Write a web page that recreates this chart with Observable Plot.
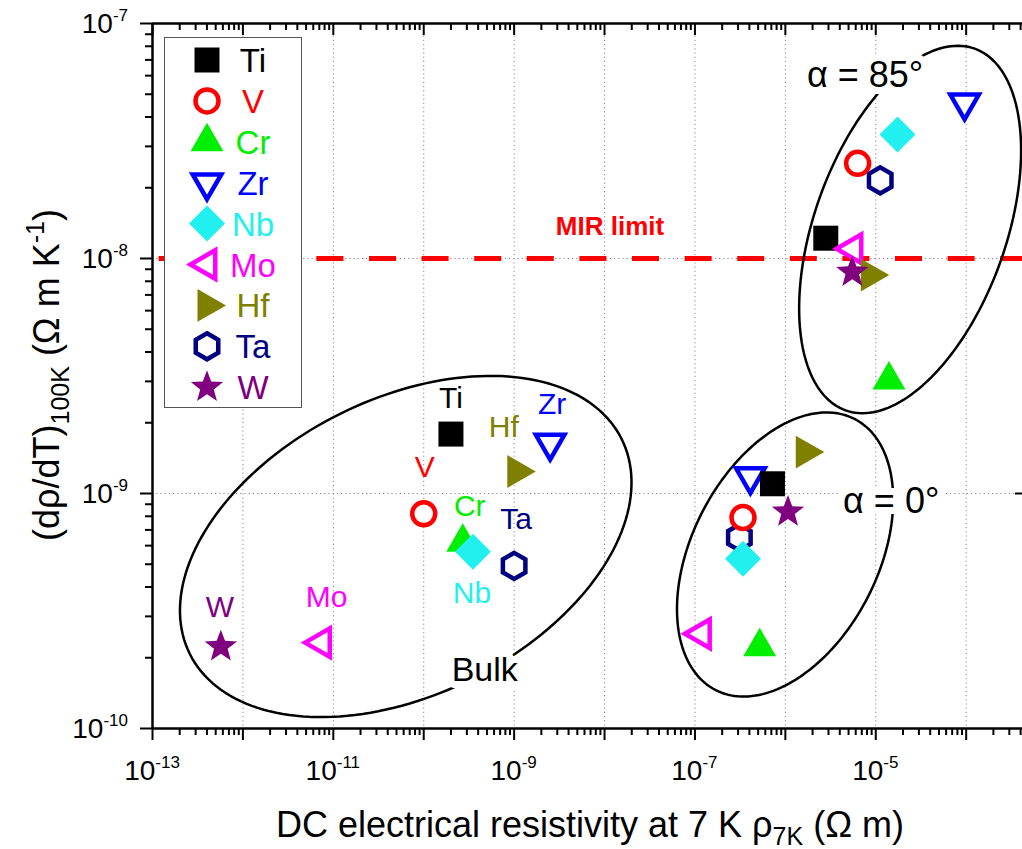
<!DOCTYPE html>
<html><head><meta charset="utf-8">
<script src="https://cdn.jsdelivr.net/npm/d3@7"></script>
<script src="https://cdn.jsdelivr.net/npm/@observablehq/plot@0.6"></script>
<style>html,body{margin:0;padding:0;background:#fff}</style>
</head><body><div id="chart"></div>
<script>
// ---------------- data ----------------
const elements = ["Ti", "V", "Cr", "Zr", "Nb", "Mo", "Hf", "Ta", "W"];
// bulk metals
const bulkRho   = [2.0e-10, 1.0e-10, 2.7e-10, 2.5e-9, 3.5e-10, 7.4e-12, 1.07e-9, 1.0e-9, 5.7e-13];
const bulkSlope = [1.79e-9, 8.2e-10, 6.2e-10, 1.64e-9, 5.65e-10, 2.32e-10, 1.24e-9, 4.92e-10, 2.23e-10];
// films deposited at alpha = 0°
const alpha0Rho   = [7.2e-7, 3.4e-7, 5.2e-7, 4.1e-7, 3.4e-7, 1.18e-7, 1.66e-6, 3.1e-7, 1.07e-6];
const alpha0Slope = [1.1e-9, 7.9e-10, 2.23e-10, 1.18e-9, 5.27e-10, 2.53e-10, 1.5e-9, 6.5e-10, 8.35e-10];
// films deposited at alpha = 85°
const alpha85Rho   = [2.8e-6, 6.3e-6, 1.4e-5, 9.6e-5, 1.74e-5, 5.6e-6, 8.7e-6, 1.12e-5, 5.5e-6];
const alpha85Slope = [1.22e-8, 2.54e-8, 3.04e-9, 4.6e-8, 3.37e-8, 1.1e-8, 8.5e-9, 2.15e-8, 8.75e-9];
const mirLimit = 1e-8;
// axis ticks (exponents of ten)
const xDecadeExps = [-13, -12, -11, -10, -9, -8, -7, -6, -5, -4];
const xLabelExps = [-13, -11, -9, -7, -5];
const yDecadeExps = [-10, -9, -8, -7];
const yLabelExps = [-10, -9, -8, -7];
// group annotations: centre and half-axes in decades (log10 space)
const groupEllipses = [
  {name: "Bulk",    cx: -10.199, cy: -9.2255, ax: 2.388,  ay: 0.4575, bx: -0.7308, by: 0.5637},
  {name: "alpha0",  cx: -6.003,  cy: -9.2596, ax: 0.768,  ay: 0.5769, bx: -0.9165, by: 0.1803},
  {name: "alpha85", cx: -4.620,  cy: -7.8766, ax: 0.7131, ay: 0.7697, bx: -0.9992, by: 0.1368}
];
const groupLabels = [
  {text: "Bulk",    x: 4.73e-10, y: 1.78e-10, size: 34},
  {text: "α = 0°",  x: 1.48e-5,  y: 9.24e-10, size: 36},
  {text: "α = 85°", x: 7.62e-6,  y: 6.01e-8,  size: 36}
];
const mirLabel = {text: "MIR limit", x: 1.15e-8, y: 1.37e-8};

// ---------------- symbols ----------------
const rad = s => Math.sqrt(s / Math.PI);
function poly(ctx, pts) { ctx.moveTo(pts[0][0], pts[0][1]); for (let i = 1; i < pts.length; i++) ctx.lineTo(pts[i][0], pts[i][1]); ctx.closePath(); }
const S = {
  square:   {draw(ctx, s) { const r = rad(s); ctx.rect(-r, -r, 2 * r, 2 * r); }},
  circle:   {draw(ctx, s) { const r = rad(s); ctx.moveTo(r, 0); ctx.arc(0, 0, r, 0, 2 * Math.PI); ctx.closePath(); }},
  triUp:    {draw(ctx, s) { const r = rad(s); poly(ctx, [[0, -r], [0.866 * r, r / 2], [-0.866 * r, r / 2]]); }},
  triDown:  {draw(ctx, s) { const r = rad(s); poly(ctx, [[0, r], [0.866 * r, -r / 2], [-0.866 * r, -r / 2]]); }},
  triLeft:  {draw(ctx, s) { const r = rad(s); poly(ctx, [[-r, 0], [r / 2, -0.866 * r], [r / 2, 0.866 * r]]); }},
  triRight: {draw(ctx, s) { const r = rad(s); poly(ctx, [[r, 0], [-r / 2, -0.866 * r], [-r / 2, 0.866 * r]]); }},
  diamond:  {draw(ctx, s) { const r = rad(s); poly(ctx, [[0, -r], [r, 0], [0, r], [-r, 0]]); }},
  hexagon:  {draw(ctx, s) { const r = rad(s); const p = []; for (let k = 0; k < 6; k++) { const a = -Math.PI / 2 + k * Math.PI / 3; p.push([r * Math.cos(a), r * Math.sin(a)]); } poly(ctx, p); }},
  star:     {draw(ctx, s) { const r = rad(s), ri = r * 0.42; const p = []; for (let k = 0; k < 10; k++) { const a = -Math.PI / 2 + k * Math.PI / 5; const rr = k % 2 ? ri : r; p.push([rr * Math.cos(a), rr * Math.sin(a)]); } poly(ctx, p); }}
};
const style = {
  Ti: {symbol: S.square,   r: 12.5, color: "#000000", open: false},
  V:  {symbol: S.circle,   r: 11.5, color: "#ff0000", open: true},
  Cr: {symbol: S.triUp,    r: 19,   color: "#00ee00", open: false},
  Zr: {symbol: S.triDown,  r: 16.5, color: "#0000ff", open: true},
  Nb: {symbol: S.diamond,  r: 18,   color: "#22f0f0", open: false},
  Mo: {symbol: S.triLeft,  r: 16.5, color: "#ff00ff", open: true},
  Hf: {symbol: S.triRight, r: 19,   color: "#808000", open: false},
  Ta: {symbol: S.hexagon,  r: 13,   color: "#000080", open: true},
  W:  {symbol: S.star,     r: 17,   color: "#800080", open: false}
};
const drawOrder = ["Zr", "Ti", "Ta", "V", "Cr", "Nb", "Mo", "Hf", "W"];
// label offsets (px) for the bulk element names
const bulkLabelOffset = {Ti: [0, -36], V: [1, -46], Cr: [7, -36], Zr: [2, -39], Nb: [-1, 42], Mo: [5, -45], Hf: [-13, -44], Ta: [2, -46], W: [-1, -39]};

// ---------------- table ----------------
const rows = [];
elements.forEach((el, i) => {
  rows.push({el, group: "Bulk", rho: bulkRho[i], slope: bulkSlope[i]});
  rows.push({el, group: "α = 0°", rho: alpha0Rho[i], slope: alpha0Slope[i]});
  rows.push({el, group: "α = 85°", rho: alpha85Rho[i], slope: alpha85Slope[i]});
});
const ellipsePts = [];
for (const e of groupEllipses) {
  for (let d = 0; d <= 360; d += 2) {
    const t = d * Math.PI / 180;
    ellipsePts.push({name: e.name,
      x: Math.pow(10, e.cx + e.ax * Math.cos(t) + e.bx * Math.sin(t)),
      y: Math.pow(10, e.cy + e.ay * Math.cos(t) + e.by * Math.sin(t))});
  }
}
const xMajor = xDecadeExps.map(e => Math.pow(10, e));
const xMinor = [];
xDecadeExps.forEach(e => { for (let m = 2; m <= 9; m++) { const v = m * Math.pow(10, e); if (v < 4.2e-4) xMinor.push(v); } });
const yMajor = yDecadeExps.map(e => Math.pow(10, e));
const yMinor = [];
yDecadeExps.slice(0, -1).forEach(e => { for (let m = 2; m <= 9; m++) yMinor.push(m * Math.pow(10, e)); });

const xMin = 1e-13, xMax = Math.pow(10, -3.377), yMin = 1e-10, yMax = 1e-7;
const FONT = "'Liberation Sans', Arial, Helvetica, sans-serif";

const marks = [
  Plot.gridX(xMajor.filter(v => v > xMin), {x: d => d, stroke: "#888", strokeOpacity: 1, strokeWidth: 1, strokeDasharray: "1.2,3"}),
  Plot.gridY(yMajor.filter(v => v > yMin && v < yMax), {y: d => d, stroke: "#888", strokeOpacity: 1, strokeWidth: 1, strokeDasharray: "1.2,3"}),
  // bottom / left ticks
  Plot.axisX(xMajor, {anchor: "bottom", tickSize: 12, strokeWidth: 2, tickFormat: () => "", label: null}),
  Plot.axisX(xMinor, {anchor: "bottom", tickSize: 7, strokeWidth: 2, tickFormat: () => "", label: null}),
  Plot.axisY(yMajor, {anchor: "left", tickSize: 12, strokeWidth: 2, tickFormat: () => "", label: null}),
  Plot.axisY(yMinor, {anchor: "left", tickSize: 7, strokeWidth: 2, tickFormat: () => "", label: null}),
  // top ticks (inward)
  Plot.ruleX(xMajor, {x: d => d, y1: yMax, y2: yMax, insetBottom: -12, stroke: "black", strokeWidth: 2}),
  Plot.ruleX(xMinor, {x: d => d, y1: yMax, y2: yMax, insetBottom: -7, stroke: "black", strokeWidth: 2}),
  // right-axis major ticks (axis itself lies just beyond the picture edge)
  Plot.ruleY(yMajor.filter(v => v > yMin && v < yMax), {y: d => d, x1: xMax, x2: xMax, insetLeft: -7, stroke: "black", strokeWidth: 2}),
  // frame lines
  Plot.ruleX([xMin], {stroke: "black", strokeWidth: 2.5}),
  Plot.ruleY([yMin, yMax], {stroke: "black", strokeWidth: 2.5}),
  // MIR limit
  Plot.ruleY([mirLimit], {stroke: "#ff0000", strokeWidth: 5, strokeDasharray: "27,25.6", strokeDashoffset: 46}),
  Plot.text([mirLabel], {x: "x", y: "y", text: "text", fill: "#ff0000", fontWeight: "bold", fontSize: 26, fontFamily: FONT}),
  // group ellipses
  Plot.line(ellipsePts, {x: "x", y: "y", z: "name", stroke: "black", strokeWidth: 2.5, curve: "linear"}),
  Plot.text(groupLabels, {x: "x", y: "y", text: "text", fontSize: d => d.size, fill: "black", stroke: "white", strokeWidth: 14, paintOrder: "stroke", fontFamily: FONT})
];
// points
for (const el of drawOrder) {
  const st = style[el];
  marks.push(Plot.dot(rows.filter(d => d.el === el), {
    x: "rho", y: "slope", symbol: st.symbol, r: st.r,
    fill: st.open ? "white" : st.color,
    stroke: st.open ? st.color : "none",
    strokeWidth: st.open ? 4.5 : 0
  }));
}
// bulk labels
for (const el of elements) {
  const [dx, dy] = bulkLabelOffset[el];
  marks.push(Plot.text(rows.filter(d => d.el === el && d.group === "Bulk"), {
    x: "rho", y: "slope", text: "el", dx, dy, fill: style[el].color, fontSize: 30, fontFamily: FONT
  }));
}

const svg = Plot.plot({
  width: 1022, height: 849,
  marginLeft: 152, marginRight: 0, marginTop: 23, marginBottom: 121,
  x: {type: "log", domain: [xMin, xMax]},
  y: {type: "log", domain: [yMin, yMax]},
  style: {fontFamily: FONT, background: "white", overflow: "visible"},
  marks
});
document.getElementById("chart").appendChild(svg);

// ---------------- tick labels, titles, legend ----------------
const xs = svg.scale("x"), ys = svg.scale("y");
const root = d3.select(svg);
const gx = root.append("g").attr("font-family", FONT).attr("fill", "black");
for (const e of xLabelExps) {
  const t = gx.append("text").attr("x", xs.apply(Math.pow(10, e))).attr("y", 780).attr("text-anchor", "middle").style("font-size", "28px");
  t.append("tspan").text("10");
  t.append("tspan").attr("dy", -12).style("font-size", "17px").text(String(e));
}
for (const e of yLabelExps) {
  const t = gx.append("text").attr("x", 128).attr("y", ys.apply(Math.pow(10, e)) + 10).attr("text-anchor", "end").style("font-size", "28px");
  t.append("tspan").text("10");
  t.append("tspan").attr("dy", -12).style("font-size", "17px").text(String(e));
}
// x title
{
  const t = gx.append("text").attr("x", 590).attr("y", 837).attr("text-anchor", "middle").style("font-size", "36px");
  t.append("tspan").text("DC electrical resistivity at 7 K ρ");
  t.append("tspan").attr("dy", 8).style("font-size", "25px").text("7K");
  t.append("tspan").attr("dy", -8).text(" (Ω m)");
}
// y title
{
  const t = gx.append("text").attr("transform", "translate(59,375) rotate(-90)").attr("text-anchor", "middle").style("font-size", "36px");
  t.append("tspan").text("(dρ/dT)");
  t.append("tspan").attr("dy", 10).style("font-size", "25px").text("100K");
  t.append("tspan").attr("dy", -10).text(" (Ω m K");
  t.append("tspan").attr("dy", -15).style("font-size", "25px").text("-1");
  t.append("tspan").attr("dy", 15).text(")");
}
// legend
{
  const lg = root.append("g").attr("font-family", FONT);
  lg.append("rect").attr("x", 164.5).attr("y", 37.5).attr("width", 137).attr("height", 370).attr("fill", "white").attr("stroke", "#555").attr("stroke-width", 1);
  elements.forEach((el, i) => {
    const st = style[el];
    const cy = 60 + i * 40.9;
    lg.append("path").attr("transform", `translate(207,${cy})`)
      .attr("d", d3.symbol(st.symbol, st.r * st.r * Math.PI)())
      .attr("fill", st.open ? "white" : st.color)
      .attr("stroke", st.open ? st.color : "none")
      .attr("stroke-width", st.open ? 4.5 : 0);
    lg.append("text").attr("x", 253).attr("y", cy + 12).style("font-size", "33px").attr("fill", st.color).text(el);
  });
}
</script>
</body></html>
